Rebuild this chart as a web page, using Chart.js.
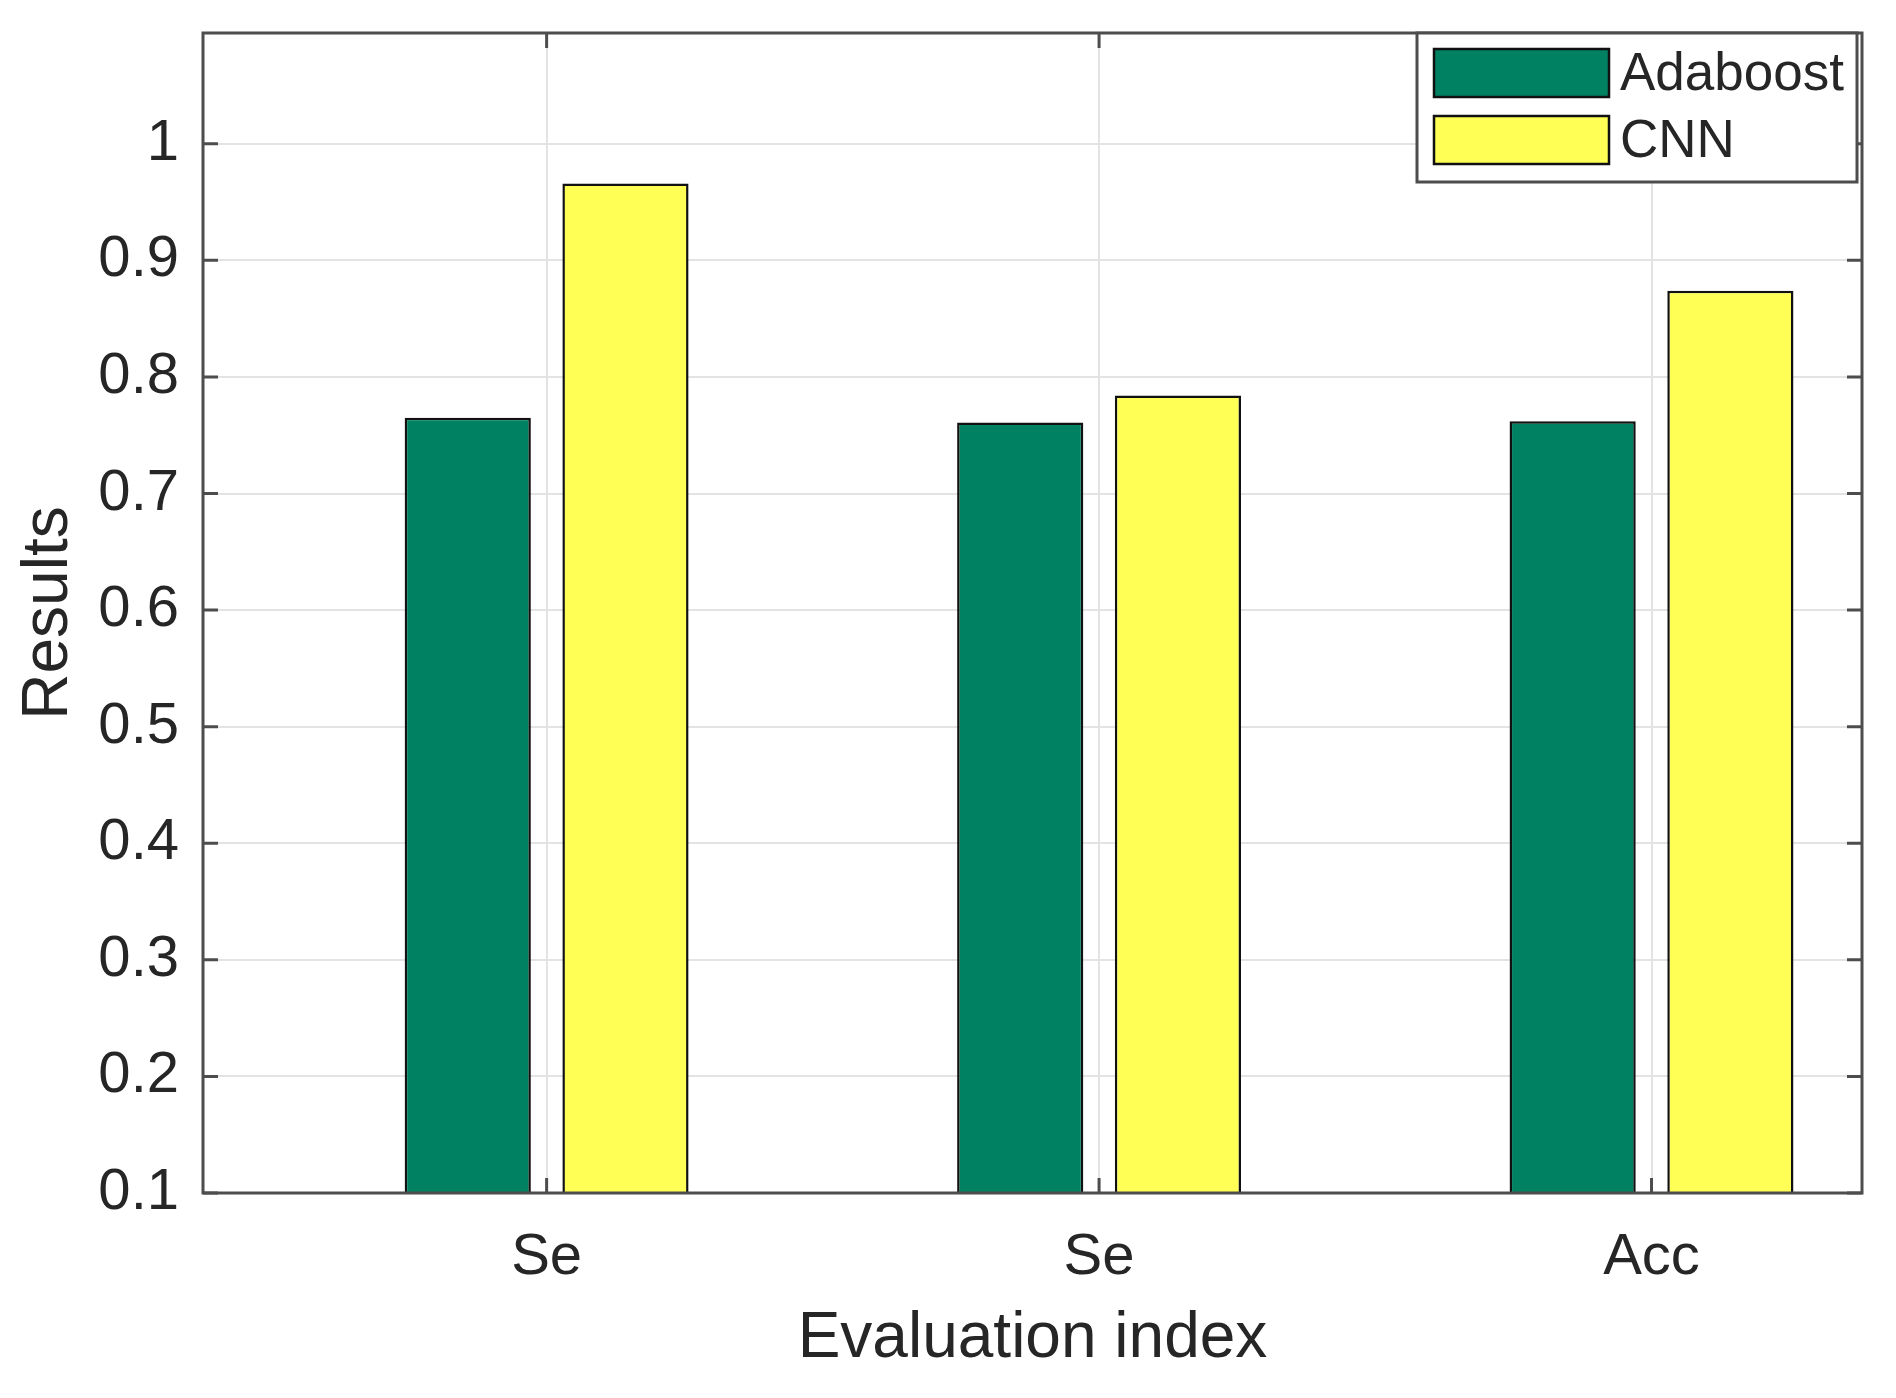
<!DOCTYPE html>
<html>
    <head>
        <title>Results by evaluation index</title>
        <script src="https://cdn.jsdelivr.net/npm/chart.js@4.4.1/dist/chart.umd.min.js"></script>
        <style>
            html, body { margin: 0; padding: 0; background: #fff; }
            canvas { display: block; }
        </style>
    </head>
    <body>
        <canvas id="chart" width="1896" height="1398"></canvas>

        <script>
            const categories = ['Se', 'Se', 'Acc']
            const adaboost = [0.765, 0.761, 0.762]
            const cnn = [0.966, 0.784, 0.874]
            const yTicks = [0.1, 0.2, 0.3, 0.4, 0.5, 0.6, 0.7, 0.8, 0.9, 1]
            const xTicks = [1, 2, 3]

            const FONT = "'Liberation Sans', Arial, Helvetica, sans-serif"
            const INK = '#262626'
            const AXIS = '#4d4d4d'

            // x positions 1..n, one per category
            const toPoints = vals => vals.map((v, i) => ({ x: xTicks[i], y: v }))

            // MATLAB style box with inward ticks on all four sides
            const boxPlugin = {
                id: 'box',
                afterDatasetsDraw(chart) {
                    const { ctx, chartArea: a, scales } = chart
                    const len = 15
                    ctx.save()
                    ctx.strokeStyle = AXIS
                    ctx.lineWidth = 3
                    ctx.beginPath()
                    yTicks.forEach(v => {
                        const y = scales.y.getPixelForValue(v)
                        ctx.moveTo(a.left, y); ctx.lineTo(a.left + len, y)
                        ctx.moveTo(a.right, y); ctx.lineTo(a.right - len, y)
                    })
                    xTicks.forEach(v => {
                        const x = scales.x.getPixelForValue(v)
                        ctx.moveTo(x, a.bottom); ctx.lineTo(x, a.bottom - len)
                        ctx.moveTo(x, a.top); ctx.lineTo(x, a.top + len)
                    })
                    ctx.stroke()
                    ctx.strokeRect(a.left, a.top, a.right - a.left, a.bottom - a.top)
                    ctx.restore()
                },
            }

            // legend box drawn inside the top right corner of the plot
            const legendPlugin = {
                id: 'boxLegend',
                afterDraw(chart) {
                    const { ctx, chartArea: a } = chart
                    const w = 440, h = 149
                    const x0 = a.right - 5 - w, y0 = a.top
                    ctx.save()
                    ctx.fillStyle = '#fff'
                    ctx.fillRect(x0, y0, w, h)
                    ctx.strokeStyle = AXIS
                    ctx.lineWidth = 3
                    ctx.strokeRect(x0, y0, w, h)
                    ctx.font = '53px ' + FONT
                    ctx.textBaseline = 'middle'
                    chart.data.datasets.forEach((ds, i) => {
                        const sy = y0 + 16 + i * 67
                        ctx.fillStyle = ds.backgroundColor
                        ctx.fillRect(x0 + 17, sy, 175, 48)
                        ctx.strokeStyle = '#111'
                        ctx.lineWidth = 2.5
                        ctx.strokeRect(x0 + 17, sy, 175, 48)
                        ctx.fillStyle = INK
                        ctx.fillText(ds.label, x0 + 203, sy + 26)
                    })
                    ctx.restore()
                },
            }

            const chart = new Chart('chart', {
                type: 'bar',
                data: {
                    datasets: [
                        {
                            label: 'Adaboost',
                            data: toPoints(adaboost),
                            backgroundColor: '#008262',
                            borderColor: '#111',
                            borderWidth: 2.5,
                        },
                        {
                            label: 'CNN',
                            data: toPoints(cnn),
                            backgroundColor: '#ffff55',
                            borderColor: '#111',
                            borderWidth: 2.5,
                        },
                    ],
                },
                options: {
                    responsive: false,
                    devicePixelRatio: 1,
                    animation: false,
                    categoryPercentage: 0.571,
                    barPercentage: 0.80,
                    layout: { padding: { top: 33, right: 34, left: 0, bottom: 0 } },
                    plugins: {
                        legend: { display: false },
                        tooltip: { enabled: false },
                    },
                    scales: {
                        x: {
                            type: 'linear',
                            offset: false,
                            min: 0.378,
                            max: 3.381,
                            afterBuildTicks: s => { s.ticks = xTicks.map(v => ({ value: v })) },
                            afterFit: s => {
                                s.height = 205
                                s.paddingLeft = 0
                                s.paddingRight = 0
                            },
                            grid: { color: '#e3e3e3', lineWidth: 2, drawTicks: false, offset: false },
                            border: { display: false },
                            ticks: {
                                padding: 30,
                                color: INK,
                                font: { family: FONT, size: 58 },
                                callback: v => categories[v - 1],
                            },
                            title: {
                                display: true,
                                text: 'Evaluation index',
                                color: INK,
                                font: { family: FONT, size: 64 },
                                padding: { top: 0, bottom: 20 },
                            },
                        },
                        y: {
                            min: 0.1,
                            max: 1.095,
                            afterBuildTicks: s => { s.ticks = yTicks.map(v => ({ value: v })) },
                            afterFit: s => {
                                s.width = 203
                                s.paddingTop = 0
                                s.paddingBottom = 0
                            },
                            grid: { color: '#e3e3e3', lineWidth: 2, drawTicks: false },
                            border: { display: false },
                            ticks: {
                                padding: 24,
                                color: INK,
                                font: { family: FONT, size: 58 },
                                callback: v => String(v),
                            },
                            title: {
                                display: true,
                                text: 'Results',
                                color: INK,
                                font: { family: FONT, size: 64 },
                                padding: { top: 11, bottom: 0 },
                            },
                        },
                    },
                },
                plugins: [boxPlugin, legendPlugin],
            })
        </script>
    </body>
</html>
